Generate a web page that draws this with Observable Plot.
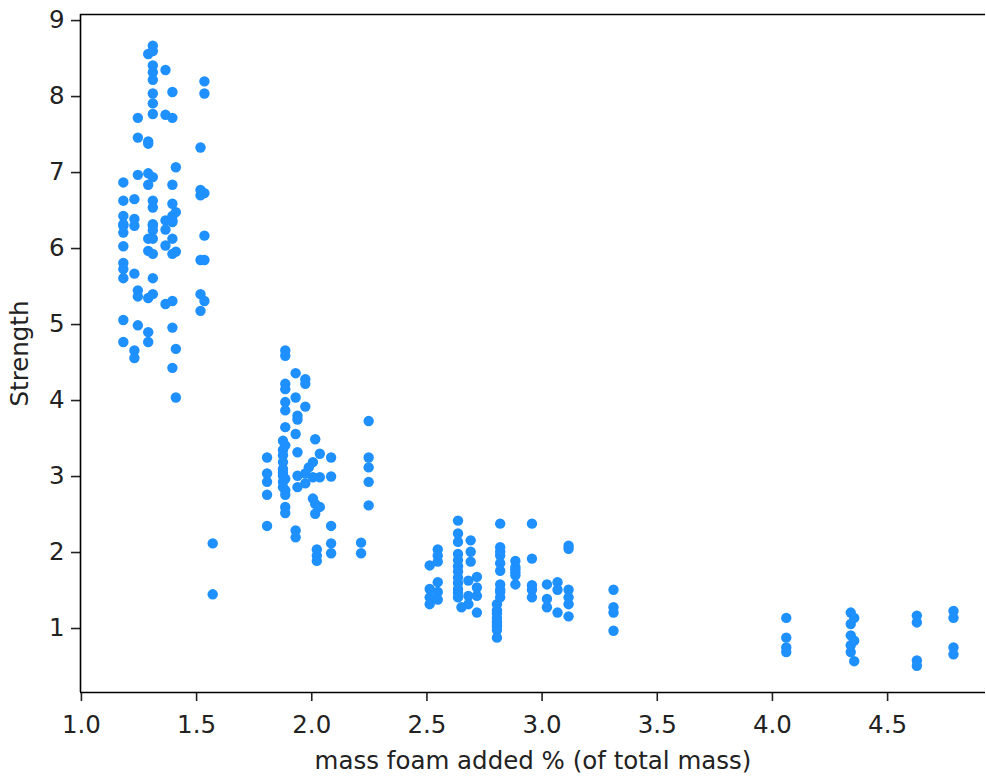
<!DOCTYPE html>
<html>
<head>
<meta charset="utf-8">
<script src="https://cdn.jsdelivr.net/npm/d3@7"></script>
<script src="https://cdn.jsdelivr.net/npm/@observablehq/plot@0.6"></script>
<style>
  html, body { margin: 0; padding: 0; background: #fff; }
  #chart svg [aria-label="x-axis tick"], #chart svg [aria-label="y-axis tick"] { stroke-width: 1.6; }
</style>
</head>
<body>
<div id="chart"></div>
<script>
// mass foam added % (x) per column of measurements
const massLevels = [
  1.182, 1.23, 1.245, 1.29, 1.31, 1.365, 1.395, 1.41, 1.517, 1.534, 1.57,
  1.806, 1.875, 1.885, 1.93, 1.938, 1.972, 1.987, 2.005, 2.015, 2.022, 2.035, 2.084, 2.214, 2.247,
  2.512, 2.547, 2.635, 2.65, 2.68, 2.69, 2.717, 2.804, 2.818, 2.884, 2.956, 3.021, 3.067, 3.115, 3.31,
  4.06, 4.34, 4.355, 4.627, 4.786
];
// strength values measured at each mass level
const strengthByLevel = [
  [6.87, 6.63, 6.43, 6.30, 6.32, 6.21, 6.03, 5.81, 5.73, 5.61, 5.06, 4.77],
  [6.65, 6.39, 6.30, 5.67, 4.66, 4.56],
  [7.72, 7.46, 6.97, 5.45, 5.37, 4.99],
  [8.56, 7.41, 7.38, 6.99, 6.84, 6.13, 5.97, 5.35, 4.90, 4.77],
  [8.67, 8.60, 8.41, 8.32, 8.22, 8.04, 7.91, 7.77, 6.94, 6.63, 6.54, 6.32, 6.30, 6.24, 6.13, 5.93, 5.61, 5.40],
  [8.35, 7.76, 6.37, 6.25, 6.04, 5.27],
  [8.06, 7.72, 6.84, 6.59, 6.43, 6.37, 6.35, 6.13, 5.93, 5.31, 4.96, 4.43],
  [7.07, 6.48, 5.96, 4.68, 4.04],
  [7.33, 6.77, 6.70, 5.85, 5.40, 5.18],
  [8.20, 8.04, 6.73, 6.17, 5.85, 5.31],
  [2.12, 1.45],
  [3.25, 3.04, 2.93, 2.76, 2.35],
  [3.47, 3.35, 3.28, 3.19, 3.10, 3.05, 3.01, 2.93, 2.86],
  [4.66, 4.59, 4.22, 4.15, 3.98, 3.87, 3.65, 3.41, 2.97, 2.82, 2.76, 2.60, 2.52],
  [4.36, 4.04, 3.56, 2.29, 2.20],
  [3.80, 3.75, 3.32, 3.01, 2.86],
  [4.28, 4.22, 3.92, 3.04, 2.91],
  [3.12],
  [3.19, 2.99, 2.71],
  [3.49, 2.64, 2.51],
  [2.04, 1.96, 1.89],
  [3.30, 2.99, 2.60],
  [3.25, 3.00, 2.35, 2.12, 1.99],
  [2.13, 1.99],
  [3.73, 3.25, 3.12, 2.93, 2.62],
  [1.83, 1.52, 1.41, 1.32],
  [2.04, 1.96, 1.88, 1.61, 1.48, 1.38],
  [2.42, 2.25, 2.14, 1.98, 1.90, 1.82, 1.75, 1.67, 1.60, 1.52, 1.47, 1.41],
  [1.28],
  [1.63, 1.43, 1.32],
  [2.16, 2.01, 1.88],
  [1.68, 1.54, 1.43, 1.21],
  [1.32, 1.24, 1.20, 1.14, 1.09, 1.06, 1.03, 0.98, 0.88],
  [2.38, 2.07, 2.01, 1.96, 1.86, 1.76, 1.58, 1.51, 1.48, 1.41],
  [1.89, 1.81, 1.78, 1.74, 1.70, 1.58],
  [2.38, 1.92, 1.57, 1.51, 1.41],
  [1.58, 1.39, 1.28],
  [1.61, 1.51, 1.21],
  [2.09, 2.05, 1.51, 1.41, 1.32, 1.16],
  [1.51, 1.28, 1.21, 0.97],
  [1.14, 0.88, 0.75, 0.69],
  [1.21, 1.06, 0.91, 0.78, 0.69],
  [1.14, 0.84, 0.57],
  [1.17, 1.08, 0.58, 0.51],
  [1.23, 1.14, 0.75, 0.66]
];
const xTicks = [1.0, 1.5, 2.0, 2.5, 3.0, 3.5, 4.0, 4.5];
const yTicks = [1, 2, 3, 4, 5, 6, 7, 8, 9];
const xDomain = [0.996, 4.925];
const yDomain = [0.158, 9.08];
const xLabel = "mass foam added % (of total mass)";
const yLabel = "Strength";

const points = massLevels.flatMap((m, i) => strengthByLevel[i].map(s => ({mass: m, strength: s})));

const chart = Plot.plot({
  width: 986,
  height: 776,
  marginLeft: 80,
  marginRight: 1,
  marginTop: 14,
  marginBottom: 84,
  style: {fontFamily: "DejaVu Sans, sans-serif", fontSize: "24.5px", color: "#222", background: "#fff"},
  x: {
    domain: xDomain,
    ticks: xTicks,
    tickFormat: d3.format(".1f"),
    tickSize: 9,
    tickPadding: 14,
    label: xLabel,
    labelAnchor: "center",
    labelOffset: 76,
    labelArrow: "none"
  },
  y: {
    domain: yDomain,
    ticks: yTicks,
    tickFormat: d3.format("d"),
    tickSize: 9,
    tickPadding: 7,
    label: yLabel,
    labelAnchor: "center",
    labelOffset: 70,
    labelArrow: "none"
  },
  marks: [
    Plot.ruleX([xDomain[0]], {stroke: "#000", strokeWidth: 1.6}),
    Plot.ruleY([yDomain[0], yDomain[1]], {stroke: "#000", strokeWidth: 1.6}),
    Plot.dot(points, {x: "mass", y: "strength", r: 5.2, fill: "#1e90ff", stroke: null})
  ]
});
document.getElementById("chart").appendChild(chart);
</script>
</body>
</html>
